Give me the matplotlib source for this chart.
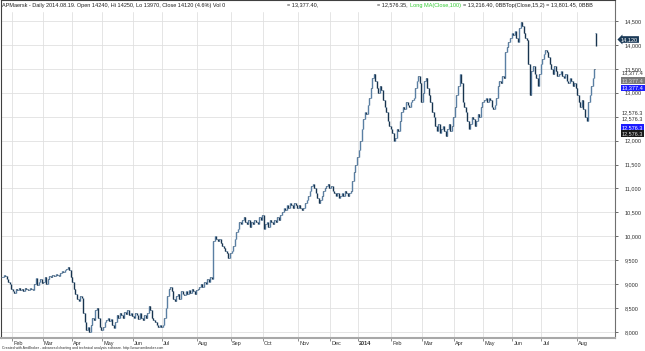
import numpy as np
import matplotlib
matplotlib.use("Agg")
import matplotlib.pyplot as plt
from matplotlib import transforms

plt.rcParams['font.family'] = ['Liberation Sans', 'DejaVu Sans']

# daily closes
jan13 = [9150, 9200, 9180, 9100, 9050, 9000, 8900]
feb13 = [8850, 8820, 8900, 8870, 8930, 8880, 8900, 8850, 8920, 8900,
         8880, 8930, 8900, 8870, 9000, 9120, 8980, 9050, 9100, 9020]
mar13 = [9050, 9150, 9000, 9100, 9180, 9150, 9200, 9170, 9220, 9190,
         9180, 9230, 9280, 9250, 9300, 9320, 9350, 9300, 9150]
apr13 = [9050, 8900, 8800, 8700, 8650, 8750, 8720, 8400, 8200, 8050,
         8100, 8000, 8150, 8300, 8250, 8450, 8500, 8300, 8100, 8050]
may13 = [8100, 8200, 8250, 8300, 8220, 8280, 8150, 8080, 8200, 8350,
         8300, 8400, 8350, 8300, 8420, 8380, 8450, 8350, 8400, 8330]
jun13 = [8300, 8400, 8350, 8280, 8400, 8300, 8250, 8350, 8300, 8400,
         8550, 8450, 8300, 8250, 8200, 8150, 8100, 8150, 8100]
jul13 = [8150, 8300, 8500, 8750, 8900, 8950, 8850, 8700, 8650, 8750,
         8800, 8700, 8850, 8800, 8780, 8850, 8800, 8880, 8820, 8900,
         8850, 8800, 8870]
aug13 = [8900, 8950, 9000, 8950, 9050, 9000, 9100, 9050, 9150, 9100,
         9900, 10000, 9950, 9900, 9950, 9850, 9800, 9750, 9700, 9650,
         9550, 9650]
sep13 = [9700, 9800, 9950, 10100, 10150, 10300, 10250, 10350, 10400, 10300,
         10250, 10350, 10200, 10300, 10250, 10350, 10300, 10250, 10400, 10350,
         10450]
oct13 = [10150, 10250, 10300, 10200, 10350, 10300, 10250, 10350, 10300, 10400,
         10350, 10450, 10500, 10600, 10550, 10650, 10600, 10700, 10650, 10600,
         10700, 10650, 10600]
nov13 = [10650, 10600, 10550, 10600, 10700, 10750, 10850, 10950, 11050, 11100,
         11000, 10900, 10800, 10700, 10750, 10850, 10950, 11000, 11050, 11100,
         11000]
dec13 = [11050, 10950, 10900, 10850, 10900, 10800, 10850, 10900, 10850, 10950,
         10900, 10850, 10900, 10950, 11150, 11350, 11500, 11650]
jan14 = [11800, 12000, 12250, 12450, 12600, 12550, 12750, 12900, 13100, 13300,
         13400, 13250, 13100, 13000, 13150, 13050, 12850, 12700, 12600, 12400,
         12300, 12250]
feb14 = [12150, 12000, 12050, 12250, 12200, 12400, 12600, 12700, 12650, 12800,
         12750, 12700, 12800, 12850, 12900, 13100, 13250, 13350, 13200, 12800]
mar14 = [13000, 13250, 13300, 13100, 12950, 12800, 12600, 12500, 12300, 12200,
         12350, 12150, 12250, 12300, 12200, 12100, 12250, 12350, 12200, 12300,
         12500]
apr14 = [12700, 12950, 13150, 13400, 13200, 12800, 12700, 12600, 12400, 12250,
         12350, 12500, 12450, 12300, 12400, 12550, 12500, 12700, 12800]
may14 = [12850, 12900, 12800, 12900, 12850, 12700, 12650, 12750, 12900, 13150,
         13250, 13200, 13350, 13300, 13850, 13950, 14050, 14150, 14250]
jun14 = [14200, 14300, 14150, 14050, 14350, 14480, 14400, 14250, 14150, 14100,
         13600, 12950, 13450, 13550, 13400, 13300, 13150, 13400, 13600]
jul14 = [13700, 13800, 13900, 13850, 13750, 13600, 13500, 13400, 13550, 13450,
         13350, 13400, 13450, 13350, 13300, 13400, 13250, 13200, 13300, 13250,
         13150, 13200, 13100]
aug14 = [12950, 12800, 12700, 12850, 12650, 12500, 12400, 12800, 12950, 13150,
         13300, 13500, 14120]

# last bar (from the header)
last_open, last_high, last_low, last_close = 14240, 14250, 13970, 14120

months = [jan13, feb13, mar13, apr13, may13, jun13, jul13, aug13, sep13, oct13,
          nov13, dec13, jan14, feb14, mar14, apr14, may14, jun14, jul14, aug14]
month_labels = ['', 'Feb', 'Mar', 'Apr', 'May', 'Jun', 'Jul', 'Aug', 'Sep', 'Oct',
                'Nov', 'Dec', '2014', 'Feb', 'Mar', 'Apr', 'May', 'Jun', 'Jul', 'Aug']

y_ticks = list(range(8000, 14501, 500))

close = np.array([v for m in months for v in m], dtype=float)
n = len(close)
idx = np.arange(n)
month_start = np.cumsum([0] + [len(m) for m in months[:-1]])

W, H = 645, 351
fig = plt.figure(figsize=(W / 100, H / 100), dpi=100)
fig.patch.set_facecolor('white')
ax = fig.add_axes([1 / W, 13 / H, 614 / W, 338 / H])

# bars: previous close -> close, open tick left, close tick right
prev = np.r_[close[0], close[:-1]]
opn = prev.copy()
opn[-1] = last_open
lo = np.minimum(prev, close)
hi = np.maximum(prev, close)
lo[-1], hi[-1] = last_low, last_high
up = close >= opn
ax.vlines(idx[up], lo[up], hi[up], color='#5a7fa3', lw=1.0, zorder=3)
ax.vlines(idx[~up], lo[~up], hi[~up], color='#18344f', lw=1.0, zorder=3)
ax.hlines(close, idx, idx + 0.5, color='#18344f', lw=0.6, zorder=3)
ax.hlines(opn, idx - 0.5, idx, color='#5a7fa3', lw=0.6, zorder=3)

ax.set_xlim(-0.65, 400.6)
ax.set_ylim(7875, 14938)

# grid
for s in month_start[1:]:
    ax.axvline(s - 0.5, color='#e0e0e0', lw=0.6, zorder=1)
for t in y_ticks:
    ax.axhline(t, color='#e0e0e0', lw=0.6, zorder=1)

# white strip under the header text
ax.axhspan(14938 - 11 * 20.9, 14938, color='white', zorder=2)

# right price axis
ax.yaxis.tick_right()
ax.set_yticks(y_ticks)
ax.set_yticklabels(['' if t == 12500 else f'{t:,}' for t in y_ticks])
ax.tick_params(axis='y', labelsize=4, colors='#303030', length=2, width=0.5, pad=5)
ax.tick_params(axis='x', length=2, width=0.5, colors='#606060')
ax.set_xticks(month_start[1:] - 0.5)
ax.set_xticklabels([])

for sp in ['left', 'top']:
    ax.spines[sp].set_color('#404040')
    ax.spines[sp].set_linewidth(0.8)
ax.spines['right'].set_color('#707070')
ax.spines['right'].set_linewidth(0.8)
ax.spines['bottom'].set_color('#a8a8a8')
ax.spines['bottom'].set_linewidth(1.5)

# month labels
trans = transforms.blended_transform_factory(ax.transData, ax.transAxes)
for s, lab in zip(month_start[1:], month_labels[1:]):
    ax.text(s + 0.3, -0.009, lab, transform=trans, fontsize=4, va='top', ha='left',
            color='#303030', fontweight='bold' if lab == '2014' else 'normal')

# header
hy = 1 - 5 / H
fig.text(2 / W, hy, 'APMaersk - Daily 2014.08.19. Open 14240, Hi 14250, Lo 13970, '
         'Close 14120 (4.6%) Vol 0', fontsize=4, va='center', color='#202020')
fig.text(287 / W, hy, '= 13,377.40,', fontsize=4, va='center', color='#202020')
fig.text(377 / W, hy, '= 12,576.35,', fontsize=4, va='center', color='#202020')
fig.text(410 / W, hy, 'Long MA(Close,100)', fontsize=4, va='center', color='#33cc33')
fig.text(463 / W, hy, '= 13,216.40, 0BBTop(Close,15,2) = 13,801.45, 0BBB',
         fontsize=4, va='center', color='#202020')

# footer
fig.text(2 / W, 1 - 347.5 / H, 'Created with AmiBroker - advanced charting and technical '
         'analysis software. http://www.amibroker.com', fontsize=2.5, va='center',
         color='#303030')

# value labels on the price axis
def tag(y, s, fc=None, tc='#303030'):
    kw = {}
    if fc is not None:
        kw['bbox'] = dict(boxstyle='square,pad=0.15', fc=fc, ec='none')
    fig.text(622 / W, 1 - y / H, s, fontsize=4, va='center', ha='left', color=tc, **kw)

fig.text(621 / W, 1 - 39.5 / H, '14,120', fontsize=4, va='center', ha='left',
         color='white', bbox=dict(boxstyle='larrow,pad=0.15', fc='#1b3a57', ec='none'))
tag(73, '13,377.4')
tag(80.5, '13,377.4', fc='#7a7a7a', tc='#d8d8d8')
tag(88, '13,377.4', fc='#1c1cff', tc='white')
tag(113, '12,576.3')
tag(119, '12,576.3')
tag(127.5, '12,576.3', fc='#1c1cff', tc='white')
tag(133.5, '12,576.3', fc='#1a1a1a', tc='#e0e0e0')

fig.savefig('out.png', dpi=100, facecolor='white')
